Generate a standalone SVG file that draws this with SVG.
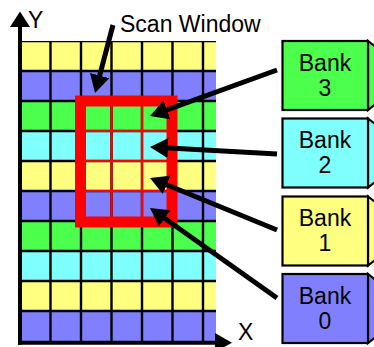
<svg xmlns="http://www.w3.org/2000/svg" width="374" height="347" viewBox="0 0 374 347">
  <style>
    .lbl { font-family: "Liberation Sans", Arial, sans-serif; font-size: 23px; fill: #000; }
    .ctr { text-anchor: middle; }
    .y { fill: #FFFF80; }
    .b { fill: #8080FF; }
    .g { fill: #4DFF4D; }
    .c { fill: #80FFFF; }
    .gl { stroke: #000; stroke-width: 2.4; fill: none; }
    .rl { stroke: #FF0000; stroke-width: 2.2; fill: none; }
    .box { stroke: #000; stroke-width: 2.2; }
    .conn { stroke: #000; stroke-width: 5; fill: none; marker-end: url(#head); }
  </style>
  <defs>
    <marker id="head" markerUnits="userSpaceOnUse" viewBox="0 0 18 20" markerWidth="18" markerHeight="20" refX="8" refY="10" orient="auto">
      <path d="M0,0 L18,10 L0,20 z" fill="#000"/>
    </marker>
    <clipPath id="gridClip">
      <rect x="20" y="41" width="196" height="301"/>
    </clipPath>
  </defs>

  <rect width="374" height="347" fill="#fff"/>

  <!-- memory array: coloured rows with cell grid -->
  <g id="grid" clip-path="url(#gridClip)">
    <rect class="y" x="20" y="41" width="196" height="30"/>
    <rect class="b" x="20" y="71" width="196" height="30"/>
    <rect class="g" x="20" y="101" width="196" height="30"/>
    <rect class="c" x="20" y="131" width="196" height="30"/>
    <rect class="y" x="20" y="161" width="196" height="30"/>
    <rect class="b" x="20" y="191" width="196" height="30"/>
    <rect class="g" x="20" y="221" width="196" height="30"/>
    <rect class="c" x="20" y="251" width="196" height="30"/>
    <rect class="y" x="20" y="281" width="196" height="30"/>
    <rect class="b" x="20" y="311" width="196" height="31"/>
    <path class="gl" d="M50.5,41V342 M81,41V342 M111.5,41V342 M142,41V342 M172.5,41V342 M203,41V342
                       M20,41H216 M20,71H216 M20,101H216 M20,131H216 M20,161H216 M20,191H216
                       M20,221H216 M20,251H216 M20,281H216 M20,311H216"/>
  </g>

  <!-- scan window: red cell lines and thick frame -->
  <g id="scan-window">
    <path class="rl" d="M111.5,101V222 M142,101V222 M81,131H172.5 M81,161H172.5 M81,191H172.5"/>
    <rect x="80.5" y="101" width="91.5" height="121" fill="none" stroke="#FF0000" stroke-width="11"/>
  </g>

  <!-- axes -->
  <g id="axes">
    <line x1="20" y1="25" x2="20" y2="344.7" stroke="#000" stroke-width="4"/>
    <line x1="18" y1="342.7" x2="217" y2="342.7" stroke="#000" stroke-width="4"/>
    <path d="M20,11.5 L30,27 L10,27 z" fill="#000"/>
    <path d="M215,333 L232,342.7 L215,352 z" fill="#000"/>
    <text class="lbl" x="28" y="28">Y</text>
    <text class="lbl" x="238" y="340">X</text>
  </g>

  <g id="scan-label">
    <text class="lbl" x="120" y="31.5">Scan Window</text>
  </g>

  <!-- memory banks -->
  <g id="bank3">
    <path class="box g" d="M368,41 L377,48 L377,103 L368,110 z"/>
    <rect class="box g" x="282.5" y="41" width="85.5" height="69"/>
    <text class="lbl ctr" x="325" y="70.5">Bank</text>
    <text class="lbl ctr" x="325" y="95.5">3</text>
  </g>
  <g id="bank2">
    <path class="box c" d="M368,118.5 L377,125.5 L377,180.5 L368,187.5 z"/>
    <rect class="box c" x="282.5" y="118.5" width="85.5" height="69"/>
    <text class="lbl ctr" x="325" y="148">Bank</text>
    <text class="lbl ctr" x="325" y="173">2</text>
  </g>
  <g id="bank1">
    <path class="box y" d="M368,196.5 L377,203.5 L377,258.5 L368,265.5 z"/>
    <rect class="box y" x="282.5" y="196.5" width="85.5" height="69"/>
    <text class="lbl ctr" x="325" y="226">Bank</text>
    <text class="lbl ctr" x="325" y="251">1</text>
  </g>
  <g id="bank0">
    <path class="box b" d="M368,274 L377,281 L377,336 L368,343 z"/>
    <rect class="box b" x="282.5" y="274" width="85.5" height="69"/>
    <text class="lbl ctr" x="325" y="303.5">Bank</text>
    <text class="lbl ctr" x="325" y="328.5">0</text>
  </g>

  <!-- pointer arrows -->
  <g id="connectors">
    <line class="conn" x1="113" y1="25" x2="97.6" y2="83.3"/>
    <line class="conn" x1="277" y1="70" x2="159.4" y2="112.6"/>
    <line class="conn" x1="277" y1="154" x2="160" y2="147.6"/>
    <line class="conn" x1="277" y1="230" x2="159.3" y2="181.8"/>
    <line class="conn" x1="277" y1="298" x2="158.2" y2="213.8"/>
  </g>
</svg>
